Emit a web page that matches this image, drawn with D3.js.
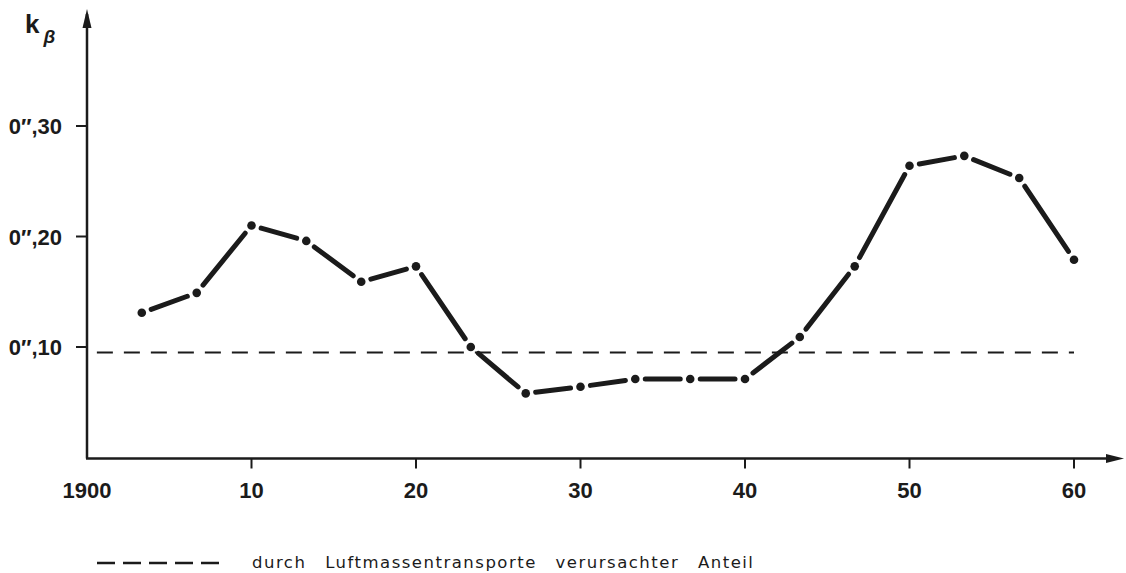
<!DOCTYPE html>
<html>
<head>
<meta charset="utf-8">
<script src="https://cdn.jsdelivr.net/npm/d3@7"></script>
<style>
  body { margin: 0; background: #fff; }
  svg { display: block; }
  .tick-label { font-family: "Liberation Sans", Arial, sans-serif; font-weight: bold; font-size: 22px; fill: #1b1b1b; }
</style>
</head>
<body>
<svg id="chart" width="1126" height="573"></svg>
<script>
  // jahre (1900 + x), gemessene k_beta werte in bogensekunden
  var years = [1903.33, 1906.67, 1910, 1913.33, 1916.67, 1920, 1923.33, 1926.67, 1930,
               1933.33, 1936.67, 1940, 1943.33, 1946.67, 1950, 1953.33, 1956.67, 1960];
  var kbeta = [0.131, 0.149, 0.210, 0.196, 0.159, 0.173, 0.100, 0.058, 0.064,
               0.071, 0.071, 0.071, 0.109, 0.173, 0.264, 0.273, 0.253, 0.179];
  // anteil durch luftmassentransporte (gestrichelt)
  var airShare = 0.095;
  var airRange = [1900.6, 1960];

  var xTicks = [1900, 1910, 1920, 1930, 1940, 1950, 1960];
  var xTickLabels = ["1900", "10", "20", "30", "40", "50", "60"];
  var yTicks = [0.10, 0.20, 0.30];
  var yTickLabels = ["0\u2033,10", "0\u2033,20", "0\u2033,30"];
  var legendText = "durch Luftmassentransporte verursachter Anteil";

  var svg = d3.select("#chart");
  var ink = "#1b1b1b";

  var x = d3.scaleLinear().domain([1900, 1960]).range([87, 1074]);
  var y = d3.scaleLinear().domain([0, 0.30]).range([457.5, 126]);

  var x0 = x(1900), y0 = 458.5;

  // achsen
  svg.append("line")
    .attr("x1", x0).attr("y1", y0).attr("x2", x0).attr("y2", 14)
    .attr("stroke", ink).attr("stroke-width", 2.5);
  svg.append("path")
    .attr("d", "M" + x0 + ",9 L" + (x0 - 4.5) + ",28 L" + (x0 + 4.5) + ",28 Z")
    .attr("fill", ink);

  svg.append("line")
    .attr("x1", x0 - 1).attr("y1", y0).attr("x2", 1118).attr("y2", y0)
    .attr("stroke", ink).attr("stroke-width", 2.5);
  svg.append("path")
    .attr("d", "M1124," + y0 + " L1106," + (y0 - 4.5) + " L1106," + (y0 + 4.5) + " Z")
    .attr("fill", ink);

  // x ticks
  var xg = svg.append("g");
  xg.selectAll("line.xt").data(xTicks.slice(1)).enter().append("line")
    .attr("x1", function (d) { return x(d); }).attr("x2", function (d) { return x(d); })
    .attr("y1", y0).attr("y2", y0 + 10)
    .attr("stroke", ink).attr("stroke-width", 2);
  xg.selectAll("text").data(xTicks).enter().append("text")
    .attr("class", "tick-label")
    .attr("x", function (d) { return x(d); })
    .attr("y", 498)
    .attr("text-anchor", "middle")
    .text(function (d, i) { return xTickLabels[i]; });

  // y ticks
  var yg = svg.append("g");
  yg.selectAll("line").data(yTicks).enter().append("line")
    .attr("x1", x0 - 11).attr("x2", x0)
    .attr("y1", function (d) { return y(d); }).attr("y2", function (d) { return y(d); })
    .attr("stroke", ink).attr("stroke-width", 2);
  yg.selectAll("text").data(yTicks).enter().append("text")
    .attr("class", "tick-label")
    .attr("x", 62)
    .attr("text-anchor", "end")
    .attr("y", function (d) { return y(d) + 8; })
    .text(function (d, i) { return yTickLabels[i]; });

  // achsenbeschriftung k_beta
  var kl = svg.append("text")
    .attr("x", 25).attr("y", 33)
    .attr("font-family", "Liberation Sans, Arial, sans-serif")
    .attr("font-weight", "bold")
    .attr("font-size", 26)
    .attr("fill", ink);
  kl.append("tspan").text("k");
  kl.append("tspan").text("\u03b2").attr("dx", 4).attr("dy", 10)
    .attr("font-size", 19).attr("font-style", "italic");

  // gestrichelte linie
  svg.append("line")
    .attr("x1", x(airRange[0])).attr("x2", x(airRange[1]))
    .attr("y1", y(airShare)).attr("y2", y(airShare))
    .attr("stroke", ink).attr("stroke-width", 2)
    .attr("stroke-dasharray", "16,11");

  // hauptkurve: segmente mit lücken um die punkte
  var pts = years.map(function (yr, i) { return [x(yr), y(kbeta[i])]; });
  var gap = 10;
  var segs = d3.pairs(pts).map(function (p) {
    var dx = p[1][0] - p[0][0], dy = p[1][1] - p[0][1];
    var len = Math.sqrt(dx * dx + dy * dy);
    var ux = dx / len, uy = dy / len;
    return [p[0][0] + ux * gap, p[0][1] + uy * gap, p[1][0] - ux * gap, p[1][1] - uy * gap];
  });
  svg.append("g").selectAll("line").data(segs).enter().append("line")
    .attr("x1", function (s) { return s[0]; }).attr("y1", function (s) { return s[1]; })
    .attr("x2", function (s) { return s[2]; }).attr("y2", function (s) { return s[3]; })
    .attr("stroke", ink).attr("stroke-width", 5).attr("stroke-linecap", "round");
  svg.append("g").selectAll("circle").data(pts).enter().append("circle")
    .attr("cx", function (p) { return p[0]; }).attr("cy", function (p) { return p[1]; })
    .attr("r", 4.3).attr("fill", ink);

  // legende
  svg.append("line")
    .attr("x1", 97).attr("x2", 219).attr("y1", 563).attr("y2", 563)
    .attr("stroke", ink).attr("stroke-width", 2.5)
    .attr("stroke-dasharray", "18,8");
  svg.append("text")
    .attr("x", 252).attr("y", 568)
    .attr("font-family", "DejaVu Sans, sans-serif")
    .attr("font-size", 16.5)
    .attr("letter-spacing", 1.5)
    .attr("word-spacing", 12)
    .attr("fill", ink)
    .text(legendText);
</script>
</body>
</html>
